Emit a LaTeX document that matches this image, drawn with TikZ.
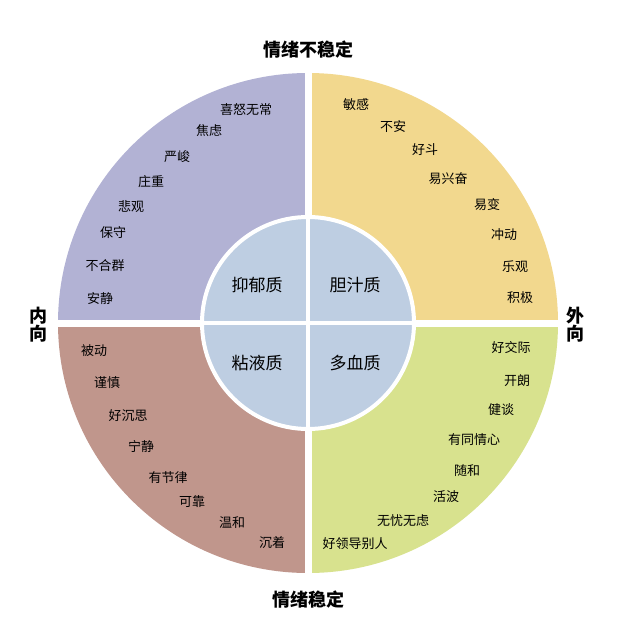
\documentclass[tikz,border=0pt]{standalone}
\usepackage{fontspec}
\newfontfamily\cjk{Noto Sans CJK SC}
\definecolor{qa}{RGB}{178,178,212}
\definecolor{qb}{RGB}{242,216,142}
\definecolor{qc}{RGB}{192,150,140}
\definecolor{qd}{RGB}{216,226,142}
\definecolor{inn}{RGB}{190,206,226}
\tikzset{w/.style={font=\cjk\fontsize{13}{13}\selectfont},
 big/.style={font=\cjk\fontsize{17}{17}\selectfont},
 ttl/.style={font=\cjk\bfseries\fontsize{18}{18}\selectfont}}
\begin{document}
\begin{tikzpicture}[x=1pt,y=-1pt]
\useasboundingbox[fill=white] (0,0) rectangle (616,636);
\coordinate (c) at (308,323);
\fill[qa] (c) -- (58,323) arc[start angle=180,end angle=270,radius=250] -- cycle;
\fill[qb] (c) -- (308,73) arc[start angle=270,end angle=360,radius=250] -- cycle;
\fill[qd] (c) -- (558,323) arc[start angle=0,end angle=90,radius=250] -- cycle;
\fill[qc] (c) -- (308,573) arc[start angle=90,end angle=180,radius=250] -- cycle;
\draw[white,line width=7] (56,323) -- (560,323) (308,71) -- (308,575);
\node[circle,fill=inn,draw=white,line width=4,minimum size=212] (in) at (c) {};
\draw[white,line width=4] (in.west) -- (in.east) (in.north) -- (in.south);
\node[big] (i1) at (257,285) {抑郁质};
\node[big] (i2) at (355,285) {胆汁质};
\node[big] (i3) at (257,363) {粘液质};
\node[big] (i4) at (355,363) {多血质};
\node[ttl] (t1) at (308,50) {情绪不稳定};
\node[ttl] (t2) at (308,600) {情绪稳定};
\node[ttl,align=center] (t3) at (38,325) {内\\向};
\node[ttl,align=center] (t4) at (575,325) {外\\向};
\foreach \t/\x/\y [count=\i] in {喜怒无常/246/110,焦虑/209/131,严峻/177/157,庄重/151/182,悲观/131/207,保守/113/233,不合群/105/266,安静/100/299,
敏感/356/105,不安/393/127,好斗/425/150,易兴奋/448/179,易变/487/205,冲动/504/235,乐观/515/267,积极/520/298,
被动/94/351,谨慎/107/383,好沉思/128/416,宁静/141/447,有节律/168/478,可靠/192/502,温和/232/523,沉着/272/543,
好交际/511/348,开朗/517/381,健谈/501/410,有同情心/474/440,随和/467/471,活波/446/497,无忧无虑/403/521,好领导别人/355/544}
 \node[w] (n\i) at (\x,\y) {\t};
\end{tikzpicture}
\end{document}
